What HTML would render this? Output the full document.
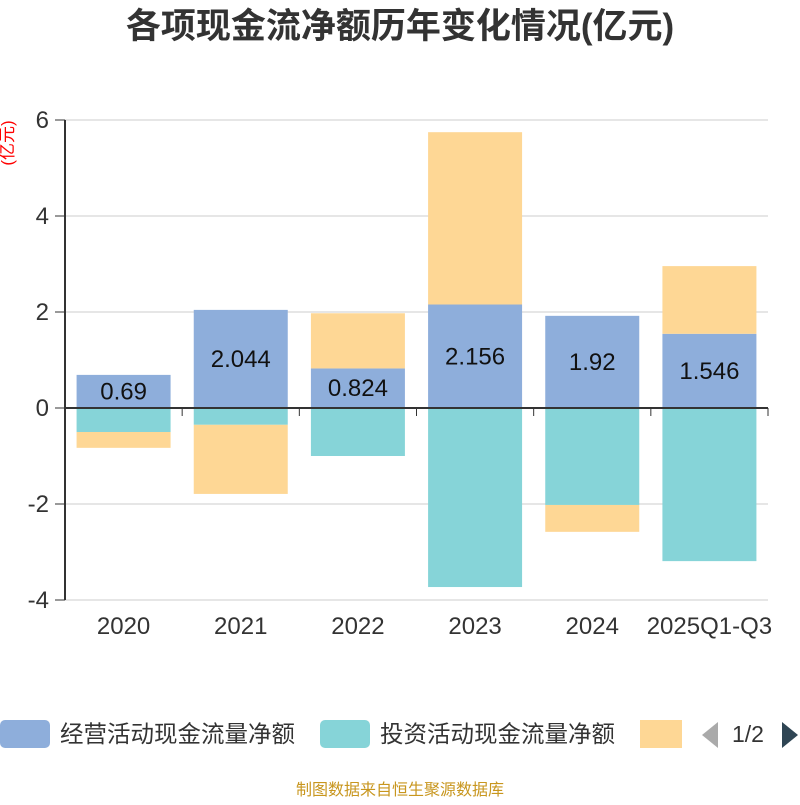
<!DOCTYPE html>
<html><head><meta charset="utf-8"><style>
body{margin:0;background:#fff;font-family:"Liberation Sans","Noto Sans CJK SC",sans-serif}
</style></head><body>
<svg id="c" width="800" height="800" xmlns="http://www.w3.org/2000/svg" style="font-family:'Liberation Sans','Noto Sans CJK SC',sans-serif">
<text x="400" y="38" text-anchor="middle" font-size="35" font-weight="bold" fill="#333">各项现金流净额历年变化情况(亿元)</text>
<text transform="translate(13,143) rotate(-90)" text-anchor="middle" font-size="17" fill="#f00">(亿元)</text>
<g id="grid"></g><g id="bars"></g><g id="axes"></g>
<g>
<rect x="0" y="720" width="50" height="28" rx="5" fill="#8eaedb"/>
<text x="60" y="742" font-size="23.5" fill="#333">经营活动现金流量净额</text>
<rect x="320" y="720" width="50" height="28" rx="5" fill="#86d4d8"/>
<text x="380" y="742" font-size="23.5" fill="#333">投资活动现金流量净额</text>
<rect x="640" y="720" width="42" height="28" fill="#fed795"/>
<path d="M718,722 L702,735 L718,748 Z" fill="#aaa"/>
<text x="732" y="742" font-size="23" fill="#333">1/2</text>
<path d="M782,722 L798,735 L782,748 Z" fill="#2f4554"/>
</g>
<text x="400" y="795" text-anchor="middle" font-size="16" fill="#c8961e">制图数据来自恒生聚源数据库</text>
</svg>
<script>
const categories=["2020","2021","2022","2023","2024","2025Q1-Q3"];
const operating=[0.69,2.044,0.824,2.156,1.92,1.546];
const investing=[-0.5,-0.35,-1.0,-3.73,-2.02,-3.19];
const financing=[-0.33,-1.44,1.15,3.59,-0.56,1.41];
const yTicks=[-4,-2,0,2,4,6];
const NS="http://www.w3.org/2000/svg";
const x0=65,x1=768,bw=(x1-x0)/categories.length;
const y=v=>408-v*48;
const xc=i=>x0+bw*(i+0.5);
function mk(t,a,p){const e=document.createElementNS(NS,t);for(const k in a)e.setAttribute(k,a[k]);document.getElementById(p).appendChild(e);return e;}
yTicks.forEach(v=>{
 if(v!==0){const l=mk('line',{x1:x0,x2:x1,y1:y(v),y2:y(v),stroke:'#ccc'},'grid');
 
 }
 const t=mk('line',{x1:55,x2:x0,y1:y(v),y2:y(v),stroke:'#333'},'axes');
 
 
 const tx=mk('text',{x:49,y:y(v)+8,'text-anchor':'end','font-size':24,fill:'#333'},'axes');tx.textContent=v;
 
 
});
const ya=mk('line',{x1:x0,x2:x0,y1:y(6),y2:y(-4),stroke:'#333','stroke-width':2},'axes');


const xa=mk('line',{x1:x0,x2:x1,y1:y(0),y2:y(0),stroke:'#333','stroke-width':2},'axes');


for(let i=0;i<=categories.length;i++){const t=mk('line',{x1:x0+bw*i,x2:x0+bw*i,y1:y(0),y2:y(0)+8,stroke:'#333'},'axes');
 
 }
const series=[[operating,'#8eaedb','bar-operating'],[investing,'#86d4d8','bar-investing'],[financing,'#fed795','bar-financing']];
categories.forEach((c,i)=>{
 let pos=0,neg=0;
 series.forEach(([arr,col,nm])=>{
  const v=arr[i];let a,b;
  if(v>=0){a=pos;b=pos+v;pos=b;}else{a=neg;b=neg+v;neg=b;}
  const r=mk('rect',{x:xc(i)-47,width:94,y:Math.min(y(a),y(b)),height:Math.abs(y(a)-y(b)),fill:col},'bars');
  
  
 });
 const lb=mk('text',{x:xc(i),y:y(operating[i]/2)+8,'text-anchor':'middle','font-size':24,fill:'#111'},'bars');lb.textContent=operating[i];
 
 
 const cl=mk('text',{x:xc(i),y:634,'text-anchor':'middle','font-size':24,fill:'#333'},'axes');cl.textContent=c;
 
 
});
</script>
</body></html>
